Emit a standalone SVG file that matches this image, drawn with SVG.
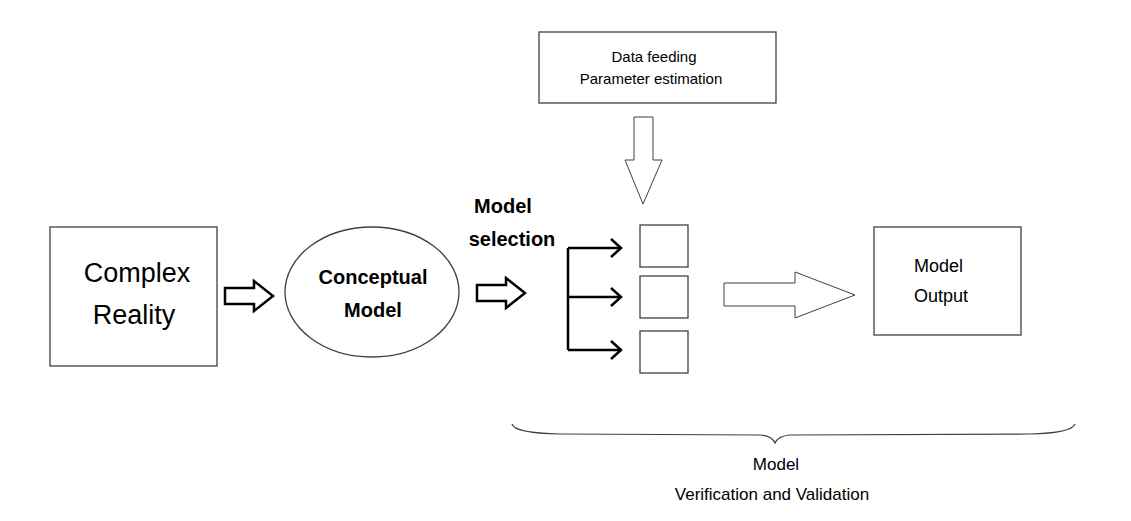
<svg xmlns="http://www.w3.org/2000/svg" width="1131" height="521" viewBox="0 0 1131 521">
<style>
.box{fill:#fff;stroke:#404040;stroke-width:1.3}
.t{font-family:"Liberation Sans",Arial,sans-serif;fill:#000}
.b{font-weight:bold}
.ha{fill:#fff;stroke:#000;stroke-width:2.5;stroke-linejoin:miter}
.thin{fill:#fff;stroke:#404040;stroke-width:1}
.ln{fill:none;stroke:#000;stroke-width:2.5}
</style>
<rect width="1131" height="521" fill="#fff"/>
<g id="complex-reality"><rect class="box" x="50" y="227" width="167" height="139"/>
<text class="t" x="137" y="282" font-size="27" text-anchor="middle">Complex</text>
<text class="t" x="134" y="324" font-size="27" text-anchor="middle">Reality</text></g>
<g id="conceptual-model"><ellipse class="box" cx="372" cy="292" rx="87" ry="65"/>
<text class="t b" x="373" y="284" font-size="20" text-anchor="middle">Conceptual</text>
<text class="t b" x="373" y="317" font-size="20" text-anchor="middle">Model</text></g>
<g id="data-feeding"><rect class="box" x="539" y="32" width="237" height="71"/>
<text class="t" x="654" y="62" font-size="15" text-anchor="middle">Data feeding</text>
<text class="t" x="651" y="84" font-size="15" text-anchor="middle">Parameter estimation</text></g>
<g id="model-selection-label"><text class="t b" x="503" y="213" font-size="20" text-anchor="middle">Model</text>
<text class="t b" x="512" y="246" font-size="20" text-anchor="middle">selection</text></g>
<g id="sub1"><rect class="box" x="640" y="225" width="48" height="42"/></g>
<g id="sub2"><rect class="box" x="640" y="276" width="48" height="42"/></g>
<g id="sub3"><rect class="box" x="640" y="331" width="48" height="42"/></g>
<g id="model-output"><rect class="box" x="874" y="227" width="147" height="108"/>
<text class="t" x="914" y="272" font-size="18">Model</text>
<text class="t" x="914" y="302" font-size="18">Output</text></g>
<g id="verification"><text class="t" x="776" y="470" font-size="17" text-anchor="middle">Model</text>
<text class="t" x="772" y="500" font-size="17" text-anchor="middle">Verification and Validation</text></g>
<g id="connectors">
<path class="ha" d="M225,288 H254 V281 L273,296 L254,311 V304 H225 Z"/>
<path class="ha" d="M477,285 H506 V278 L525,293 L506,308 V301 H477 Z"/>
<path class="thin" d="M634,117 H653 V160 H662 L643,204 L625,160 H634 Z"/>
<path class="thin" d="M724,283 H795 V272 L855,295 L795,318 V306 H724 Z"/>
<path class="ln" d="M568,248 V350 M568,248 H620 M568,297 H620 M568,350 H620"/>
<path class="ln" d="M611,239 L621,248 L611,257 M611,288 L621,297 L611,306 M611,341 L621,350 L611,359"/>
<path fill="none" stroke="#404040" stroke-width="1.2" d="M512,424 Q514,433 560,434 L760,435 Q772,436 775,443 Q778,436 790,435 L1030,434 Q1072,433 1075,424"/>
</g>
</svg>
